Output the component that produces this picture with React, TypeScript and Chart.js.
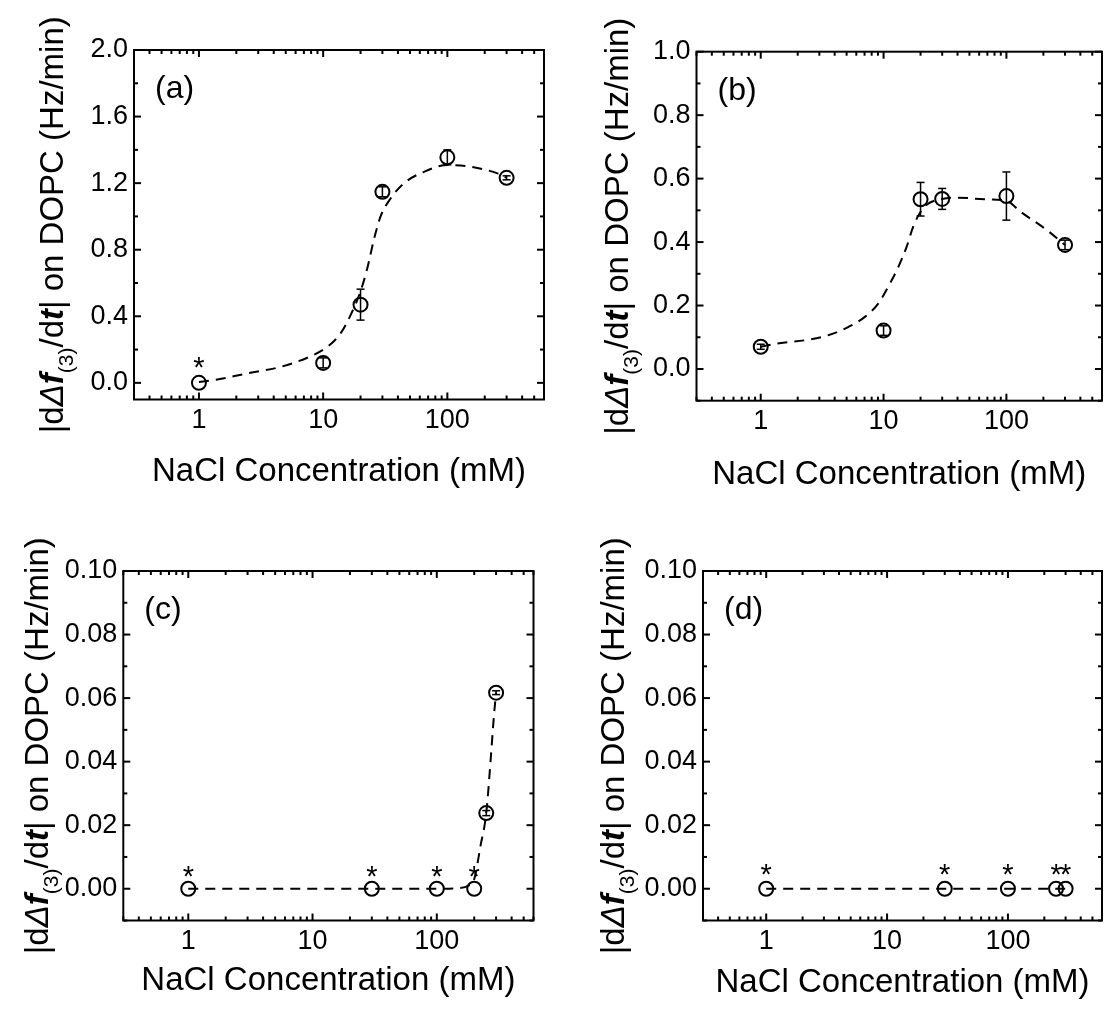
import React, { useEffect, useRef } from "react";
import { Chart, registerables } from "chart.js";

Chart.register(...registerables);

const FONT = '"Liberation Sans", Arial, Helvetica, sans-serif';
Chart.defaults.font.family = FONT;

// ---------------- shared axis data ----------------
const X_MIN = 0.3;
const X_MAX = 600;
const xTickValues = [1, 10, 100];
const X_TITLE = "NaCl Concentration (mM)";

// ---------------- panel (a) ----------------
const concA = [1, 10, 20, 30, 100, 300];
const rateA = [0.0, 0.12, 0.47, 1.148, 1.355, 1.232];
const errA = [0.0, 0.03, 0.093, 0.03, 0.045, 0.012];
const starA = [true, false, false, false, false, false];
const fitXA = [1, 1.41, 2.45, 4.55, 7.93, 10.8, 13.8, 16.7, 20.0, 22.7, 25.6, 29.0, 34.9, 44.7, 64.8, 100, 154, 253, 300];
const fitYA = [0.005, 0.02, 0.057, 0.096, 0.16, 0.216, 0.297, 0.41, 0.55, 0.69, 0.86, 1.0, 1.108, 1.199, 1.268, 1.309, 1.298, 1.259, 1.232];
const yTicksA = [0, 0.4, 0.8, 1.2, 1.6, 2.0];

// ---------------- panel (b) ----------------
const concB = [1, 10, 20, 30, 100, 300];
const rateB = [0.07, 0.121, 0.535, 0.536, 0.545, 0.391];
const errB = [0.008, 0.015, 0.053, 0.033, 0.076, 0.015];
const starB = [false, false, false, false, false, false];
const fitXB = [1, 1.42, 2.33, 3.59, 5.2, 7.09, 9.08, 10.9, 13.2, 15.4, 17.4, 19.7, 22.3, 30, 40.1, 65.9, 100, 130, 213, 300];
const fitYB = [0.07, 0.081, 0.091, 0.107, 0.133, 0.165, 0.207, 0.259, 0.322, 0.385, 0.448, 0.491, 0.517, 0.536, 0.54, 0.535, 0.53, 0.496, 0.438, 0.391];
const yTicksB = [0, 0.2, 0.4, 0.6, 0.8, 1.0];

// ---------------- panel (c) ----------------
const concC = [1, 30, 100, 200, 250, 300];
const rateC = [0, 0, 0, 0, 0.0238, 0.0617];
const errC = [0, 0, 0, 0, 0.0008, 0.0006];
const starC = [true, true, true, true, false, false];
const fitXC = [1, 30, 100, 150, 180, 200, 225, 250, 271, 289, 300];
const fitYC = [0, 0, 0, 0.0002, 0.001, 0.003, 0.0136, 0.0238, 0.0404, 0.055, 0.0617];
const yTicksC = [0, 0.02, 0.04, 0.06, 0.08, 0.1];

// ---------------- panel (d) ----------------
const concD = [1, 30, 100, 250, 300];
const rateD = [0, 0, 0, 0, 0];
const errD = [0, 0, 0, 0, 0];
const starD = [true, true, true, true, true];
const fitXD = [1, 300];
const fitYD = [0, 0];
const yTicksD = [0, 0.02, 0.04, 0.06, 0.08, 0.1];

type Rect = { left: number; top: number; width: number; height: number };
type Box = { left: number; top: number; right: number; bottom: number };

type PanelSpec = {
  label: string;
  canvas: Rect;
  box: Box;
  conc: number[];
  rate: number[];
  err: number[];
  star: boolean[];
  fitX: number[];
  fitY: number[];
  yTicks: number[];
  yMin: number;
  yMax: number;
  yMinorStep: number;
  yDecimals: number;
  yTitleX: number;
  xTitleY: number;
  starOffset: number;
};

const panels: PanelSpec[] = [
  {
    label: "(a)",
    canvas: { left: 0, top: 0, width: 555, height: 505 },
    box: { left: 134, top: 50, right: 544, bottom: 399.5 },
    conc: concA, rate: rateA, err: errA, star: starA, fitX: fitXA, fitY: fitYA,
    yTicks: yTicksA, yMin: -0.1, yMax: 2.0, yMinorStep: 0.2, yDecimals: 1,
    yTitleX: 51, xTitleY: 470, starOffset: 23,
  },
  {
    label: "(b)",
    canvas: { left: 555, top: 0, width: 556, height: 505 },
    box: { left: 696.5, top: 51.7, right: 1105.5, bottom: 400.7 },
    conc: concB, rate: rateB, err: errB, star: starB, fitX: fitXB, fitY: fitYB,
    yTicks: yTicksB, yMin: -0.1, yMax: 1.0, yMinorStep: 0.1, yDecimals: 1,
    yTitleX: 616, xTitleY: 473, starOffset: 21,
  },
  {
    label: "(c)",
    canvas: { left: 0, top: 505, width: 555, height: 505 },
    box: { left: 123.3, top: 571, right: 533.5, bottom: 920.5 },
    conc: concC, rate: rateC, err: errC, star: starC, fitX: fitXC, fitY: fitYC,
    yTicks: yTicksC, yMin: -0.01, yMax: 0.1, yMinorStep: 0.01, yDecimals: 2,
    yTitleX: 36, xTitleY: 979, starOffset: 19,
  },
  {
    label: "(d)",
    canvas: { left: 555, top: 505, width: 556, height: 505 },
    box: { left: 703, top: 571, right: 1108, bottom: 920.5 },
    conc: concD, rate: rateD, err: errD, star: starD, fitX: fitXD, fitY: fitYD,
    yTicks: yTicksD, yMin: -0.01, yMax: 0.1, yMinorStep: 0.01, yDecimals: 2,
    yTitleX: 612, xTitleY: 981, starOffset: 21,
  },
];

const MAJOR_LEN = 7;
const MINOR_LEN = 4;
const TICK_FONT = 27;
const STAR_FONT = 29;

function Panel({ spec }: { spec: PanelSpec }) {
  const ref = useRef<HTMLCanvasElement | null>(null);
  const c = spec.canvas;

  useEffect(() => {
    const canvas = ref.current;
    if (!canvas) return;
    const boxL = spec.box.left - c.left;
    const boxT = spec.box.top - c.top;
    const boxR = spec.box.right - c.left;
    const boxB = spec.box.bottom - c.top;
    const titleSize = 33;
    const titleCenterLocal = spec.xTitleY - c.top + 1.5;
    const titlePadBottom = c.height - (titleSize * 1.2) / 2 - titleCenterLocal;

    const decorPlugin = {
      id: "decor",
      afterDraw(chart: any) {
        const { ctx, chartArea: ca, scales } = chart;
        const xs = scales.x;
        const ys = scales.y;
        ctx.save();
        ctx.strokeStyle = "#000";
        ctx.fillStyle = "#000";
        ctx.lineCap = "butt";

        const seg = (x1: number, y1: number, x2: number, y2: number) => {
          ctx.beginPath();
          ctx.moveTo(x1, y1);
          ctx.lineTo(x2, y2);
          ctx.stroke();
        };

        // error bars
        ctx.lineWidth = 1.5;
        spec.conc.forEach((xv, i) => {
          const e = spec.err[i];
          if (!e) return;
          const px = xs.getPixelForValue(xv);
          const yTop = ys.getPixelForValue(spec.rate[i] + e);
          const yBot = ys.getPixelForValue(spec.rate[i] - e);
          seg(px, yTop, px, yBot);
          seg(px - 4, yTop, px + 4, yTop);
          seg(px - 4, yBot, px + 4, yBot);
        });

        // frame
        ctx.lineWidth = 2;
        ctx.strokeRect(ca.left, ca.top, ca.right - ca.left, ca.bottom - ca.top);

        // x ticks (log, inward on top & bottom)
        const eMin = Math.floor(Math.log10(xs.min));
        const eMax = Math.ceil(Math.log10(xs.max));
        for (let e = eMin; e <= eMax; e++) {
          for (let k = 1; k <= 9; k++) {
            const v = k * Math.pow(10, e);
            if (v < xs.min * 0.999 || v > xs.max * 1.001) continue;
            const px = xs.getPixelForValue(v);
            const len = k === 1 ? MAJOR_LEN : MINOR_LEN;
            seg(px, ca.bottom, px, ca.bottom - len);
            seg(px, ca.top, px, ca.top + len);
          }
        }
        // y ticks (inward on left & right)
        const step = spec.yMinorStep;
        const nMin = Math.ceil(ys.min / step - 1e-6);
        const nMax = Math.floor(ys.max / step + 1e-6);
        for (let n = nMin; n <= nMax; n++) {
          const v = n * step;
          const isMajor = spec.yTicks.some((t) => Math.abs(t - v) < step * 1e-3);
          const py = ys.getPixelForValue(v);
          const len = isMajor ? MAJOR_LEN : MINOR_LEN;
          seg(ca.left, py, ca.left + len, py);
          seg(ca.right, py, ca.right - len, py);
        }

        // stars
        ctx.font = `${STAR_FONT}px ${FONT}`;
        ctx.textAlign = "center";
        ctx.textBaseline = "alphabetic";
        spec.conc.forEach((xv, i) => {
          if (!spec.star[i]) return;
          const px = xs.getPixelForValue(xv);
          const py = ys.getPixelForValue(spec.rate[i]);
          ctx.fillText("*", px, py - spec.starOffset + STAR_FONT * 0.575);
        });

        // panel label
        ctx.font = `32px ${FONT}`;
        ctx.textAlign = "left";
        ctx.textBaseline = "middle";
        ctx.fillText(spec.label, ca.left + 21, ca.top + 39);

        // y-axis title with italic / subscript parts
        const cx = spec.yTitleX - c.left;
        const cy = (ca.top + ca.bottom) / 2;
        const base = 11.8;
        const parts = [
          { t: "|d", f: `33px ${FONT}`, dy: base },
          { t: "\u0394", f: `italic 33px ${FONT}`, dy: base },
          { t: "f", f: `italic bold 33px ${FONT}`, dy: base },
          { t: "(3)", f: `21px ${FONT}`, dy: base + 10 },
          { t: "/d", f: `33px ${FONT}`, dy: base },
          { t: "t", f: `italic bold 33px ${FONT}`, dy: base },
          { t: "| on DOPC (Hz/min)", f: `33px ${FONT}`, dy: base },
        ];
        let total = 0;
        const widths = parts.map((p) => {
          ctx.font = p.f;
          const w = ctx.measureText(p.t).width;
          total += w;
          return w;
        });
        ctx.translate(cx, cy);
        ctx.rotate(-Math.PI / 2);
        ctx.textAlign = "left";
        ctx.textBaseline = "alphabetic";
        let x = -total / 2;
        parts.forEach((p, i) => {
          ctx.font = p.f;
          ctx.fillText(p.t, x, p.dy);
          x += widths[i];
        });
        ctx.restore();
      },
    };

    const chart = new Chart(canvas, {
      type: "scatter",
      data: {
        datasets: [
          {
            label: "measured",
            data: spec.conc.map((x, i) => ({ x, y: spec.rate[i] })),
            pointRadius: 7,
            pointHoverRadius: 7,
            pointBorderWidth: 2,
            borderWidth: 2,
            borderColor: "#000",
            pointBorderColor: "#000",
            backgroundColor: "rgba(0,0,0,0)",
            pointBackgroundColor: "rgba(0,0,0,0)",
            showLine: false,
          },
          {
            label: "fit",
            data: spec.fitX.map((x, i) => ({ x, y: spec.fitY[i] })),
            showLine: true,
            pointRadius: 0,
            pointHoverRadius: 0,
            borderColor: "#000",
            borderWidth: 2,
            borderDash: [10, 7],
            cubicInterpolationMode: "monotone",
            fill: false,
          },
        ],
      },
      options: {
        responsive: false,
        animation: false,
        events: [],
        layout: { padding: { left: 0, top: boxT, right: c.width - boxR, bottom: 0 } },
        plugins: { legend: { display: false }, tooltip: { enabled: false } },
        scales: {
          x: {
            type: "logarithmic",
            position: "bottom",
            min: X_MIN,
            max: X_MAX,
            grid: { display: false, drawTicks: false },
            border: { display: false },
            afterBuildTicks: (s: any) => {
              s.ticks = xTickValues.map((v) => ({ value: v }));
            },
            afterFit: (s: any) => {
              s.height = c.height - boxB;
            },
            ticks: {
              color: "#000",
              font: { size: TICK_FONT, family: FONT },
              padding: 5,
              maxRotation: 0,
              autoSkip: false,
              callback: (v: any) => String(v),
            },
            title: {
              display: true,
              text: X_TITLE,
              color: "#000",
              font: { size: titleSize, family: FONT },
              padding: { top: 0, bottom: titlePadBottom },
            },
          },
          y: {
            type: "linear",
            position: "left",
            min: spec.yMin,
            max: spec.yMax,
            grid: { display: false, drawTicks: false },
            border: { display: false },
            afterBuildTicks: (s: any) => {
              s.ticks = spec.yTicks.map((v) => ({ value: v }));
            },
            afterFit: (s: any) => {
              s.width = boxL;
            },
            ticks: {
              color: "#000",
              font: { size: TICK_FONT, family: FONT },
              padding: 6,
              autoSkip: false,
              callback: (v: any) => Number(v).toFixed(spec.yDecimals),
            },
          },
        },
      } as any,
      plugins: [decorPlugin],
    });
    return () => chart.destroy();
  }, [spec]);

  return (
    <canvas
      ref={ref}
      width={c.width}
      height={c.height}
      style={{ position: "absolute", left: c.left, top: c.top, width: c.width, height: c.height }}
    />
  );
}

export default function App() {
  return (
    <div
      style={{
        position: "absolute",
        left: 0,
        top: 0,
        width: 1111,
        height: 1010,
        background: "#fff",
        overflow: "hidden",
      }}
    >
      {panels.map((p) => (
        <Panel key={p.label} spec={p} />
      ))}
    </div>
  );
}
